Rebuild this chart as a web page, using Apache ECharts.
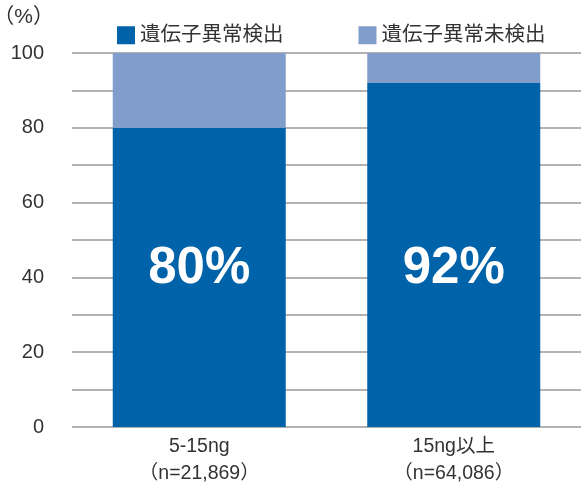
<!DOCTYPE html>
<html><head><meta charset="utf-8">
<script src="https://cdn.jsdelivr.net/npm/echarts@6/dist/echarts.min.js"></script>
<style>html,body{margin:0;padding:0;background:#fff}#c{width:581px;height:484px}</style>
</head><body><div id="c"></div>
<script>
const categories = ['5-15ng\n（n=21,869）', '15ng以上\n（n=64,086）'];
const detected = [80, 92];
const notDetected = [20, 8];
const seriesNames = ['遺伝子異常検出', '遺伝子異常未検出'];
const yTicks = [0, 20, 40, 60, 80, 100];

const FONT = "'Liberation Sans', 'Noto Sans CJK JP', sans-serif";
const chart = echarts.init(document.getElementById('c'));
chart.setOption({
  animation: false,
  textStyle: { fontFamily: FONT },
  legend: {
    left: 112, top: 20, itemWidth: 18, itemHeight: 18, itemGap: 75,
    icon: 'rect',
    textStyle: { fontSize: 20.5, color: '#333', fontFamily: FONT },
    data: seriesNames
  },
  grid: { left: 72, right: 0, top: 53, bottom: 57, outerBoundsMode: 'none', containLabel: false },
  xAxis: {
    type: 'category', data: categories,
    axisLine: { show: false }, axisTick: { show: false },
    axisLabel: { fontSize: 19.5, color: '#333', lineHeight: 27, margin: 6, fontFamily: FONT }
  },
  yAxis: {
    type: 'value', min: 0, max: 100, interval: 10,
    name: '（%）', nameLocation: 'end', nameGap: 25,
    nameTextStyle: { fontSize: 21, color: '#333', align: 'right', padding: [0, 18, 0, 0], fontFamily: FONT },
    axisLine: { show: false }, axisTick: { show: false },
    axisLabel: {
      fontSize: 20, color: '#333', margin: 28, fontFamily: FONT,
      formatter: v => yTicks.includes(v) ? String(v) : ''
    },
    splitLine: { lineStyle: { color: '#999', width: 1.5 } }
  },
  series: [
    {
      name: seriesNames[0], type: 'bar', stack: 's', data: detected, barWidth: 173,
      itemStyle: { color: '#0062A8' },
      label: {
        show: true, position: 'insideBottom', distance: 133,
        formatter: '{c}%', color: '#fff', fontSize: 51, fontWeight: 'bold', fontFamily: FONT
      }
    },
    {
      name: seriesNames[1], type: 'bar', stack: 's', data: notDetected, barWidth: 173,
      itemStyle: { color: '#819DCB' }
    }
  ]
});
</script></body></html>
